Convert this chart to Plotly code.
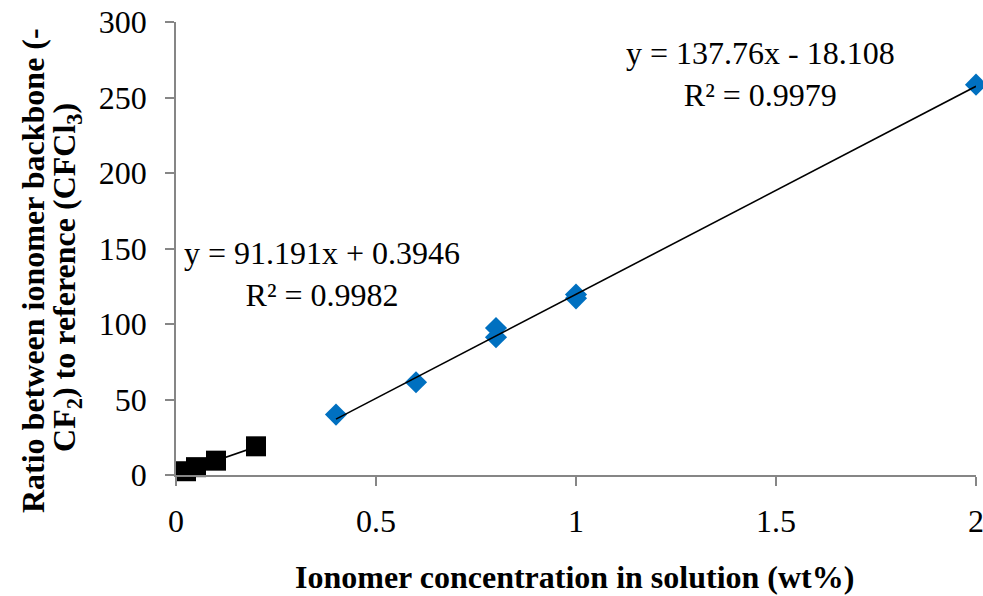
import plotly.graph_objects as go

# Low-concentration calibration set (squares)
low_conc = [0.025, 0.05, 0.1, 0.2]
low_ratio = [2.5, 5.2, 9.5, 19.0]
low_slope, low_icpt, low_r2 = 91.191, 0.3946, 0.9982

# High-concentration calibration set (diamonds)
high_conc = [0.4, 0.6, 0.8, 0.8, 1.0, 1.0, 2.0]
high_ratio = [40.0, 61.4, 97.4, 91.2, 119.5, 117.0, 258.5]
high_slope, high_icpt, high_r2 = 137.76, -18.108, 0.9979

x_ticks = [0, 0.5, 1, 1.5, 2]
y_ticks = [0, 50, 100, 150, 200, 250, 300]

FONT = "Liberation Serif"
FSIZE = 32
AXIS_GREY = "#868686"


def fit_line(xs, slope, icpt):
    x0, x1 = min(xs), max(xs)
    return [x0, x1], [slope * x0 + icpt, slope * x1 + icpt]


fig = go.Figure()

fig.add_trace(go.Scatter(x=low_conc, y=low_ratio, mode="markers",
                         marker=dict(symbol="square", size=20, color="black"),
                         cliponaxis=False, showlegend=False))
fig.add_trace(go.Scatter(x=high_conc, y=high_ratio, mode="markers",
                         marker=dict(symbol="diamond", size=17, color="#0070C0",
                                     line=dict(width=0)),
                         cliponaxis=False, showlegend=False))

# Linear fits drawn on top of the markers
lx, ly = fit_line(low_conc, low_slope, low_icpt)
hx, hy = fit_line(high_conc, high_slope, high_icpt)
fig.add_trace(go.Scatter(x=lx, y=ly, mode="lines",
                         line=dict(color="black", width=1.6),
                         showlegend=False, hoverinfo="skip"))
fig.add_trace(go.Scatter(x=hx, y=hy, mode="lines",
                         line=dict(color="black", width=1.6),
                         showlegend=False, hoverinfo="skip"))

axis_common = dict(
    showgrid=False, zeroline=False, showline=True,
    linecolor=AXIS_GREY, linewidth=1.5,
    ticks="outside", ticklen=9, tickwidth=1.5, tickcolor=AXIS_GREY,
    tickfont=dict(family=FONT, size=FSIZE, color="black"),
    ticklabeloverflow="allow", automargin=False,
)

fig.update_xaxes(range=[0, 2], tickvals=x_ticks, ticklabelstandoff=8, **axis_common)
fig.update_yaxes(range=[0, 300], tickvals=y_ticks, ticklabelstandoff=12, **axis_common)


def eq_text(slope, icpt, r2):
    sign = "+" if icpt >= 0 else "-"
    return f"y = {slope:g}x {sign} {abs(icpt):g}<br>R² = {r2:.4f}"


text_font = dict(family=FONT, size=FSIZE, color="black")

annotations = [
    dict(x=0.366, y=133.4, xref="x", yref="y",
         text=eq_text(low_slope, low_icpt, low_r2), showarrow=False,
         align="center", xanchor="center", yanchor="middle", font=text_font),
    dict(x=1.461, y=265.4, xref="x", yref="y",
         text=eq_text(high_slope, high_icpt, high_r2), showarrow=False,
         align="center", xanchor="center", yanchor="middle", font=text_font),
    # Axis titles
    dict(x=0.498, y=-0.226, xref="paper", yref="paper",
         text="<b>Ionomer concentration in solution (wt%)</b>", showarrow=False,
         xanchor="center", yanchor="middle", font=text_font),
    dict(x=-0.179, y=0.452, xref="paper", yref="paper",
         text="<b>Ratio between ionomer backbone (-</b>", showarrow=False,
         textangle=-90, xanchor="center", yanchor="middle", font=text_font),
    dict(x=-0.137, y=0.436, xref="paper", yref="paper",
         text="<b>CF<sub>2</sub>) to reference (CFCl<sub>3</sub>)</b>", showarrow=False,
         textangle=-90, xanchor="center", yanchor="middle", font=text_font),
]

fig.update_layout(
    width=983, height=596,
    margin=dict(l=175.5, r=7, t=22, b=120.5),
    paper_bgcolor="white", plot_bgcolor="white",
    annotations=annotations,
)

fig.write_html("out.html")
